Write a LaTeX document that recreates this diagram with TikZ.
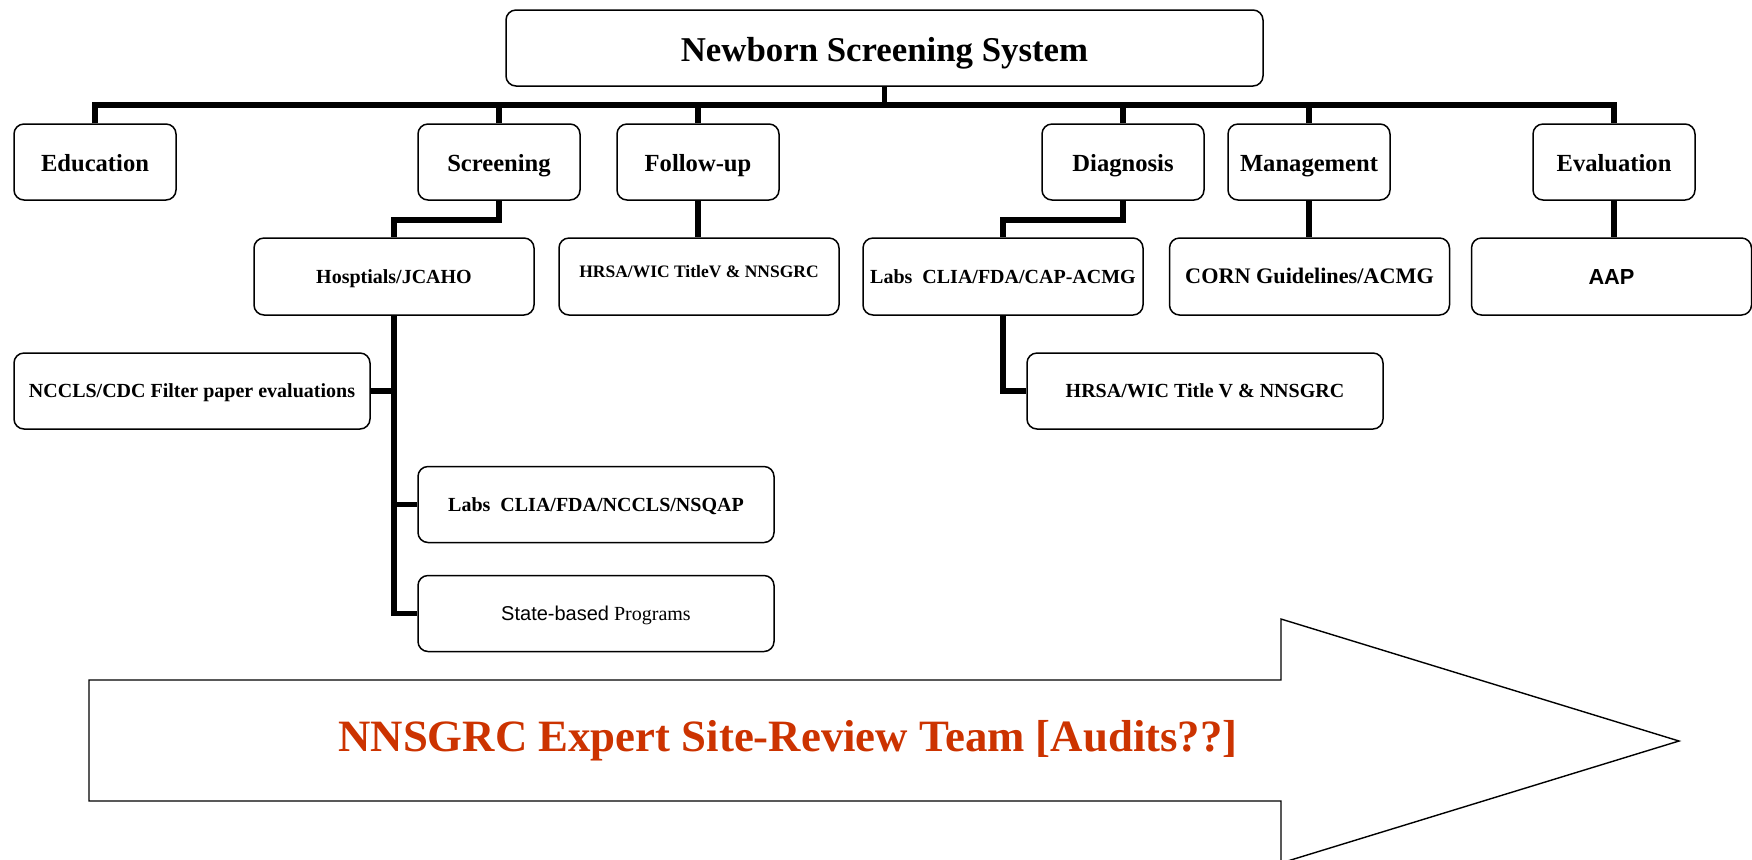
\documentclass[tikz,border=0pt]{standalone}
\usepackage{fontspec}
\setmainfont{Liberation Serif}
\setsansfont{Liberation Sans}
\usepackage{xcolor}
\usepackage{tikz}

\definecolor{auditred}{RGB}{204,51,0}

\begin{document}
\begin{tikzpicture}[x=0.5pt,y=-0.5pt,
  box/.style={draw,rounded corners=5pt,line width=0.75pt,align=center,inner sep=0pt,text depth=0pt},
  rootbox/.style={box,minimum width=378.5pt,minimum height=38pt,text height=13.5pt,
    font=\fontsize{17.4}{20}\selectfont\bfseries},
  areabox/.style={box,minimum width=81pt,minimum height=38pt,text height=9.8pt,
    font=\fontsize{12.3}{14}\selectfont\bfseries},
  orgbox/.style={box,minimum width=140pt,minimum height=38.5pt,text height=6.6pt,
    font=\fontsize{10}{12}\selectfont\bfseries},
  widebox/.style={orgbox,minimum width=178pt,minimum height=38pt},
  bar/.style={line width=2.8pt}]
  \fill[white] (0,0) rectangle (1752,859);
  \clip (0,0) rectangle (1752,859);

  % Top and the six areas
  \node[rootbox] (nss) at (884.5,48) {Newborn Screening System};

  \node[areabox] (edu) at (95,162)   {Education};
  \node[areabox] (scr) at (499,162)  {Screening};
  \node[areabox] (fol) at (698,162)  {Follow-up};
  \node[areabox] (dia) at (1123,162) {Diagnosis};
  \node[areabox] (man) at (1309,162) {Management};
  \node[areabox] (eva) at (1614,162) {Evaluation};

  % Bodies under each area
  \node[orgbox] (hosp) at (394,276.5) {Hosptials/JCAHO};
  \node[orgbox,font=\fontsize{8.75}{10}\selectfont\bfseries,text height=5.8pt,text depth=4.5pt]
    (hrsaA) at (699,276.5) {HRSA/WIC TitleV \& NNSGRC};
  \node[orgbox] (labsA) at (1003,276.5) {Labs~~CLIA/FDA/CAP-ACMG};
  \node[orgbox,font=\fontsize{11.1}{13}\selectfont\bfseries,text height=7.3pt] (corn) at (1309.5,276.5)
    {CORN Guidelines/ACMG};
  \node[orgbox,font=\sffamily\fontsize{10.9}{13}\selectfont\bfseries,text height=7.8pt] (aap) at (1611.5,276.5)
    {AAP};

  \node[widebox] (nccls) at (192,391)   {NCCLS/CDC Filter paper evaluations};
  \node[widebox] (hrsaB) at (1205,391)  {HRSA/WIC Title V \& NNSGRC};
  \node[widebox] (labsB) at (596,504.5) {Labs~~CLIA/FDA/NCCLS/NSQAP};
  \node[widebox,font=\fontsize{10}{12}\selectfont] (state) at (596,613.5)
    {{\sffamily State-based} Programs};

  % Connectors
  \coordinate (bus) at (0,105);
  \draw[bar] (nss.south) -- (nss.south |- bus);
  \draw[bar] (edu.north) -- (edu.north |- bus) -- (eva.north |- bus) -- (eva.north);
  \foreach \n in {scr,fol,dia,man}
    \draw[bar] (\n.north) -- (\n.north |- bus);

  \draw[bar] (scr.south) -- ++(0,19) -| (hosp.north);
  \draw[bar] (fol.south) -- (fol.south |- hrsaA.north);
  \draw[bar] (dia.south) -- ++(0,19) -| (labsA.north);
  \draw[bar] (man.south) -- (man.south |- corn.north);
  \draw[bar] (eva.south) -- (eva.south |- aap.north);

  \draw[bar] (hosp.south) |- (state.west);
  \draw[bar] (nccls.east) -- (nccls.east -| hosp.south);
  \draw[bar] (labsB.west) -- (labsB.west -| hosp.south);
  \draw[bar] (labsA.south) |- (hrsaB.west);

  % Big arrow
  \draw[line width=0.7pt,fill=white] (89,680) -- (1281,680) -- (1281,619) -- (1679,741)
    -- (1281,863) -- (1281,801) -- (89,801) -- cycle;
  \node[font=\fontsize{22.4}{26}\selectfont\bfseries,text=auditred] (audit) at (788,741)
    {NNSGRC Expert Site-Review Team [Audits??]};
\end{tikzpicture}
\end{document}
